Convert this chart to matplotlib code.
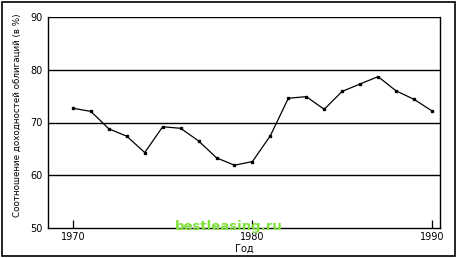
import matplotlib.pyplot as plt
from matplotlib.patches import Rectangle

# data
years = list(range(1970, 1991))
ratio = [72.7, 72.1, 68.8, 67.4, 64.3, 69.2, 68.9, 66.5, 63.3, 61.9, 62.6,
         67.5, 74.6, 74.9, 72.5, 75.9, 77.3, 78.7, 76.0, 74.4, 72.2]
x_ticks = [1970, 1980, 1990]
y_ticks = [50, 60, 70, 80, 90]

fig = plt.figure(figsize=(4.57, 2.58), dpi=100)
ax = fig.add_axes([48 / 457, 30 / 258, 392 / 457, 211 / 258])

# horizontal grid
for v in y_ticks[1:]:
    ax.axhline(v, color="black", lw=1.0, zorder=1)

ax.plot(years, ratio, color="black", lw=0.9, marker="s", ms=2.0, zorder=3)

ax.set_xlim(1968.61, 1990.45)
ax.set_ylim(50, 90)
ax.set_xticks(x_ticks)
ax.set_yticks(y_ticks)
ax.tick_params(axis="x", direction="in", length=6, width=0.9, labelsize=7, pad=3)
ax.tick_params(axis="y", length=0, labelsize=7, pad=4)
for s in ["left", "bottom", "right"]:
    ax.spines[s].set_linewidth(1.0)
ax.spines["top"].set_visible(False)

ax.set_xlabel("Год", fontsize=7, labelpad=1)
ax.set_ylabel("Соотношение доходностей облигаций (в %)", fontsize=6.3, labelpad=4)
ax.yaxis.set_label_coords(-0.068, 0.535)

# watermark
fig.text(0.5, 0.122, "bestleasing.ru", color="#7ee23a", fontsize=9.5,
         fontweight="bold", ha="center", va="center", zorder=5)

# outer frame
fig.patches.append(Rectangle((2 / 457, 2 / 258), 453 / 457, 254 / 258,
                             transform=fig.transFigure, fill=False,
                             edgecolor="black", lw=1.2))

fig.savefig("out.png", dpi=100)
